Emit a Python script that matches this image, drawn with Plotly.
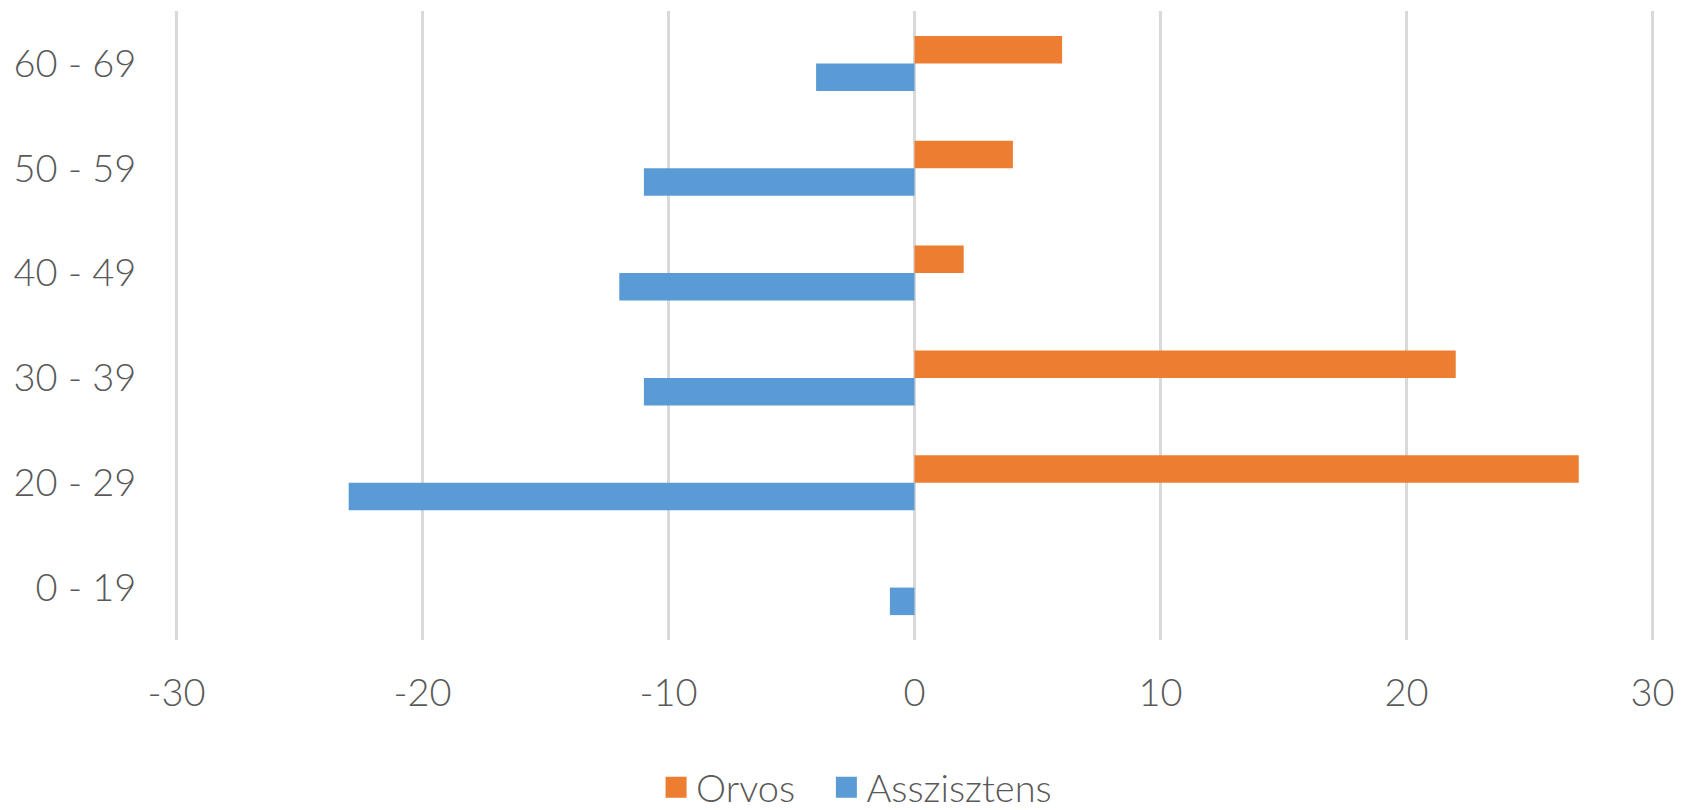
import plotly.graph_objects as go

categories = ["0 - 19", "20 - 29", "30 - 39", "40 - 49", "50 - 59", "60 - 69"]
orvos = [0, 27, 22, 2, 4, 6]
asszisztens = [-1, -23, -11, -12, -11, -4]
x_ticks = [-30, -20, -10, 0, 10, 20, 30]

ORANGE = "#ED7D31"
BLUE = "#5B9BD5"
TEXT = "#595959"
GRID = "#D9D9D9"
FONT = "Lato"
FW = 300

fig = go.Figure()
# Bars (first trace placed lower within each category group)
fig.add_trace(go.Bar(y=categories, x=asszisztens, orientation="h", name="Asszisztens",
                     marker=dict(color=BLUE, line=dict(width=0)), showlegend=False))
fig.add_trace(go.Bar(y=categories, x=orvos, orientation="h", name="Orvos",
                     marker=dict(color=ORANGE, line=dict(width=0)), showlegend=False))
# Legend entries (one legend box each, to reproduce the spacing)
fig.add_trace(go.Scatter(x=[None], y=[None], mode="markers", name="Orvos", legend="legend",
                         marker=dict(symbol="square", size=16, color=ORANGE,
                                     line=dict(color=ORANGE, width=5))))
fig.add_trace(go.Scatter(x=[None], y=[None], mode="markers", name="Asszisztens", legend="legend2",
                         marker=dict(symbol="square", size=16, color=BLUE,
                                     line=dict(color=BLUE, width=5))))

legend_common = dict(orientation="h", xanchor="left", y=-0.2345, yanchor="middle",
                     font=dict(family=FONT, size=38, color=TEXT, weight=FW),
                     itemsizing="trace", bgcolor="rgba(0,0,0,0)")

fig.update_layout(
    width=1686, height=802,
    margin=dict(l=166, r=39, t=3, b=170, autoexpand=False),
    paper_bgcolor="white", plot_bgcolor="white",
    barmode="group", bargap=0.475, bargroupgap=0,
    font=dict(family=FONT, size=38, color=TEXT, weight=FW),
    showlegend=True,
    legend=dict(x=0.3255, **legend_common),
    legend2=dict(x=0.4405, **legend_common),
    xaxis=dict(range=[-30.1, 30.1], tickvals=x_ticks, ticktext=[str(v) for v in x_ticks],
               showgrid=True, gridcolor=GRID, gridwidth=3,
               zeroline=True, zerolinecolor=GRID, zerolinewidth=3,
               showline=False, ticks="outside", ticklen=19, tickcolor="rgba(0,0,0,0)",
               tickfont=dict(family=FONT, size=38, color=TEXT, weight=FW), fixedrange=True,
               automargin=False),
    yaxis=dict(categoryorder="array", categoryarray=categories,
               showgrid=False, zeroline=False, showline=False,
               ticks="outside", ticklen=29, tickcolor="rgba(0,0,0,0)",
               tickfont=dict(family=FONT, size=38, color=TEXT, weight=FW), fixedrange=True,
               automargin=False),
)

fig.write_html("out.html")
